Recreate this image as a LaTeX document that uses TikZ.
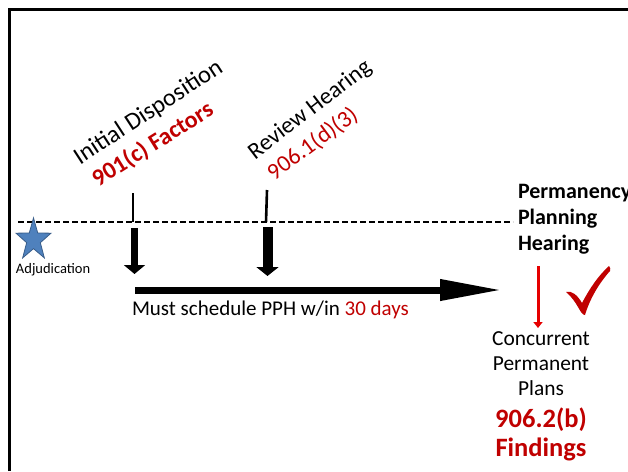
\documentclass[tikz,border=0pt]{standalone}
\usepackage{fontspec}
\setmainfont{Carlito}
\usetikzlibrary{arrows.meta}
\definecolor{lawred}{RGB}{192,0,0}
\definecolor{brightred}{RGB}{230,0,0}
\definecolor{starblue}{RGB}{79,129,189}
\definecolor{staredge}{RGB}{56,93,138}
\tikzset{
  lbl/.style={inner sep=0pt, outer sep=0pt},
  txt/.style={lbl, font=\fontsize{21}{25}\selectfont},
  slanted/.style={lbl, anchor=base west, font=\fontsize{23.5}{26}\selectfont},
  timeline/.style={line width=1.3pt, dash pattern=on 6pt off 3pt},
  tick/.style={line width=2.6pt},
  downarrow/.style={line width=7pt, -{Triangle[length=9pt,width=21pt]}},
}
\begin{document}
\begin{tikzpicture}[x=1pt,y=-1pt]
\useasboundingbox (0,0) rectangle (628,471);
\fill[white] (0,0) rectangle (628,471);

% frame (top and left edges)
\draw[line width=3pt] (9,471) -- (9,9) -- (640,9);

% dashed timeline
\coordinate (dashL) at (18,222);
\coordinate (dashR) at (513,222);
\draw[timeline] (dashL) -- (dashR);

% adjudication star (y axis points down, so the top point is at -90)
\begin{scope}[shift={(33.5,240)}, yscale=1.2]
  \draw[fill=starblue, draw=staredge, line width=0.8pt]
    (-90:18.4) -- (-54:7.2) -- (-18:18.4) -- (18:7.2) -- (54:18.4)
    -- (90:7.2) -- (126:18.4) -- (162:7.2) -- (198:18.4) -- (234:7.2) -- cycle;
\end{scope}
\node[lbl, anchor=base west, font=\fontsize{14.5}{16}\selectfont] (adj) at (16,273) {Adjudication};

% initial disposition marker
\coordinate (t1a) at (133,193);
\coordinate (t1b) at (133,222);
\draw[tick] (t1a) -- (t1b);
\coordinate (a1a) at (134.5,228);
\coordinate (a1b) at (134.5,274);
\draw[downarrow] (a1a) -- (a1b);

% review hearing marker
\coordinate (t2a) at (267,190);
\coordinate (t2b) at (266,222);
\draw[tick] (t2a) -- (t2b);
\coordinate (a2a) at (267.5,227);
\coordinate (a2b) at (267.5,276);
\draw[downarrow, line width=10pt, -{Triangle[length=9pt,width=22pt]}] (a2a) -- (a2b);

% main horizontal arrow
\coordinate (hA) at (135,290);
\coordinate (hB) at (502,290);
\draw[line width=7pt, -{Triangle[length=62pt,width=20pt]}] (hA) -- (hB);

\node[txt, anchor=base west] (must) at (132,315) {Must schedule PPH w/in \textcolor{lawred}{30 days}};

% rotated labels
\node[slanted, font=\fontsize{24.5}{27}\selectfont, rotate=33] (initd) at (80,165) {Initial Disposition};
\node[slanted, text=lawred, font=\bfseries\fontsize{24}{27}\selectfont, rotate=32] (factors) at (98,187) {901(c) Factors};
\node[slanted, rotate=37.5] (review) at (255,160) {Review Hearing};
\node[slanted, text=lawred, rotate=36.5] (rev906) at (274,181) {906.1(d)(3)};

% permanency planning hearing (base = last line)
\node[lbl, anchor=base west, align=left, font=\bfseries\fontsize{22}{26}\selectfont] (pph) at (518,250) {Permanency\\Planning\\Hearing};

% red arrow down
\coordinate (r1) at (538,266);
\coordinate (r2) at (538,328);
\draw[brightred, line width=3pt, -{Triangle[length=6pt,width=9pt]}] (r1) -- (r2);

% check mark
\fill[lawred] (566,292) .. controls (572,290) and (578,296) .. (582,303)
  .. controls (590,288) and (598,276) .. (609,266)
  .. controls (610,268) and (611,269) .. (610,271)
  .. controls (600,282) and (590,298) .. (585,315)
  .. controls (580,315) and (578,302) .. (566,292) -- cycle;

% outcome text (base = last line)
\node[lbl, anchor=base, align=center, font=\fontsize{21.4}{25}\selectfont] (plans) at (541,395) {Concurrent\\Permanent\\Plans};
\node[lbl, anchor=base, align=center, text=lawred, font=\bfseries\fontsize{26.5}{29}\selectfont] (findings) at (541,456) {906.2(b)\\Findings};
\end{tikzpicture}
\end{document}
